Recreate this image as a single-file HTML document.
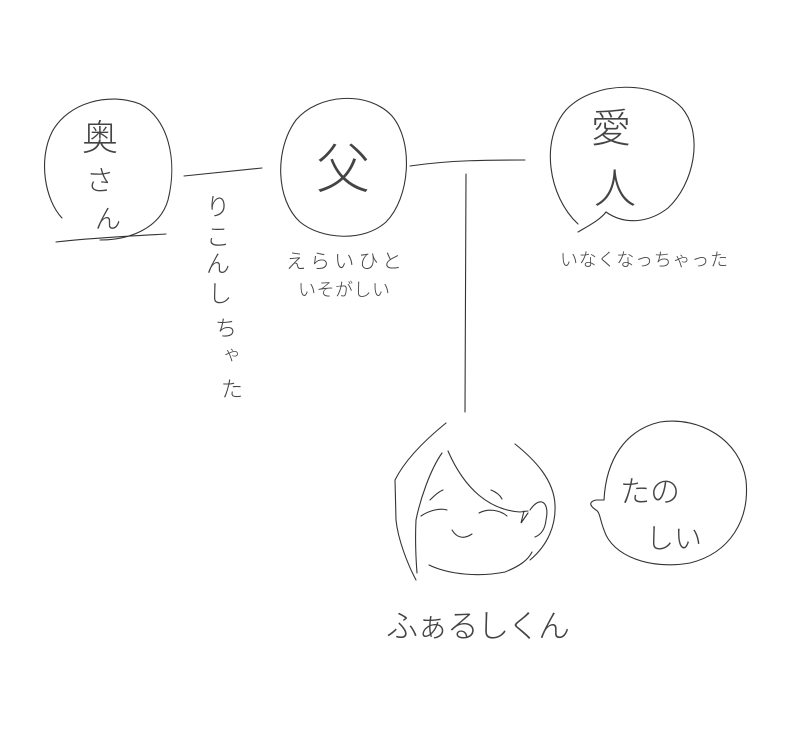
<!DOCTYPE html>
<html><head><meta charset="utf-8"><style>
html,body{margin:0;padding:0;background:#fff;width:800px;height:733px;overflow:hidden}
svg{display:block}
text{font-family:"Liberation Sans","Noto Sans CJK JP",sans-serif;fill:#444;font-weight:300}
</style></head><body>
<svg width="800" height="733" viewBox="0 0 800 733" xmlns="http://www.w3.org/2000/svg">
<g fill="none" stroke="#333" stroke-width="1.1" stroke-linecap="round">
<!-- 奥さん -->
<path d="M62,218 C45,200 38,160 52,132 C68,102 110,92 140,104 C168,118 178,160 168,200 C160,228 130,240 100,240"/>
<path d="M56,242 C90,238 130,236 166,234"/>
<path d="M184,176 L262,168"/>
<!-- 父 -->
<path d="M300,222 C276,200 274,150 296,120 C318,94 368,90 392,116 C414,142 410,198 386,222 C364,242 322,240 300,222 Z"/>
<path d="M410,166 C450,160 490,160 525,160"/>
<path d="M466,174 L465,412"/>
<!-- 愛人 -->
<path d="M578,224 C548,196 540,140 566,110 C594,80 656,80 682,108 C704,134 694,184 668,208 C650,222 626,226 606,212 C600,220 588,226 578,232"/>
<!-- face -->
<path d="M446,423 C425,440 405,460 395,480 L396,520 C398,540 408,565 416,580"/>
<path d="M442,453 C430,470 420,500 416,520 C415,540 416,560 417,573"/>
<path d="M448,451 C465,490 490,510 520,512 L528,511"/>
<path d="M515,444 C535,460 554,480 555,505 C556,525 548,545 530,560"/>
<path d="M429,565 C450,575 480,577 505,572 C520,566 528,560 532,552"/>
<path d="M530,510 C540,495 550,502 546,520 C545,530 540,535 535,537"/>
<path d="M524,511 L521,523 L528,513"/>
<path d="M430,500 C436,494 440,491 443,490"/>
<path d="M421,516 C430,510 440,508 447,510"/>
<path d="M491,490 C496,492 500,495 502,499"/>
<path d="M479,513 C488,508 500,510 507,516"/>
<path d="M452,530 C458,540 466,538 472,534"/>
<!-- bubble -->
<path d="M604,500 C606,460 625,430 660,422 C700,416 740,440 746,480 C750,520 730,553 690,563 C650,570 612,556 604,530 C600,520 600,512 596,510 C590,506 588,502 596,500 Z"/>
</g>
<text x="100" y="150" font-size="36" text-anchor="middle">奥</text>
<text x="100" y="190" font-size="28" text-anchor="middle">さ</text>
<text x="108" y="228" font-size="26" text-anchor="middle">ん</text>
<text x="343" y="188" font-size="54" text-anchor="middle">父</text>
<text x="611" y="142" font-size="40" text-anchor="middle">愛</text>
<text x="615" y="203" font-size="42" text-anchor="middle">人</text>
<text x="286" y="268" font-size="20" textLength="116">えらいひと</text>
<text x="298" y="296" font-size="18" textLength="92">いそがしい</text>
<text x="560" y="266" font-size="18" textLength="168">いなくなっちゃった</text>
<g font-size="24" text-anchor="middle">
<text x="218" y="215">り</text>
<text x="218" y="245">こ</text>
<text x="218" y="272">ん</text>
<text x="220" y="302">し</text>
<text x="226" y="336" font-size="22">ち</text>
<text x="232" y="360" font-size="18">ゃ</text>
<text x="232" y="397" font-size="22">た</text>
</g>
<text x="386" y="637" font-size="32" textLength="184">ふぁるしくん</text>
<text x="620" y="502" font-size="30">たの</text>
<text x="646" y="548" font-size="28">しい</text>
</svg>
</body></html>
